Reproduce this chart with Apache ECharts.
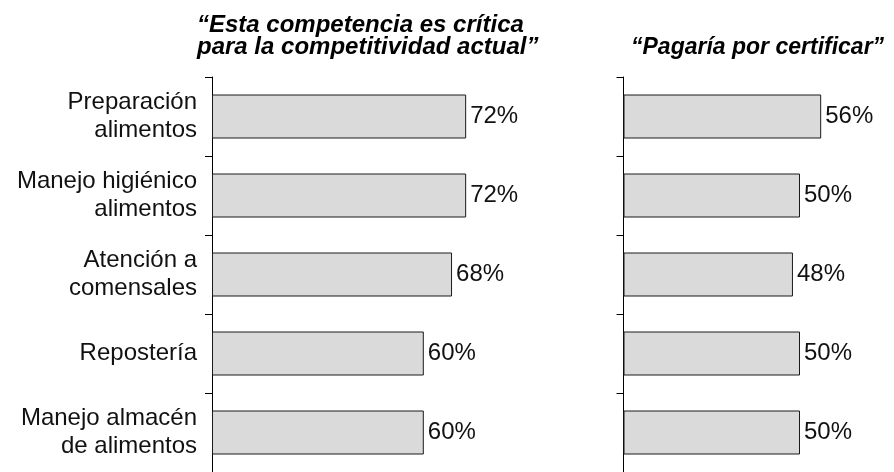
<!DOCTYPE html>
<html>
<head>
<meta charset="utf-8">
<script src="https://cdn.jsdelivr.net/npm/echarts@6/dist/echarts.min.js"></script>
<style>
  html, body { margin: 0; padding: 0; background: #fff; }
  #chart { width: 894px; height: 472px; }
</style>
</head>
<body>
<div id="chart"></div>
<script>
const categories = [
  'Preparación\nalimentos',
  'Manejo higiénico\nalimentos',
  'Atención a\ncomensales',
  'Repostería',
  'Manejo almacén\nde alimentos'
]
const criticalValues = [72, 72, 68, 60, 60]
const certifyValues = [56, 50, 48, 50, 50]
const leftTitle = '“Esta competencia es crítica\npara la competitividad actual”'
const rightTitle = '“Pagaría por certificar”'

const font = '"Liberation Sans", Arial, sans-serif'
const ink = '#111'
const pxPerUnit = 3.53
const xMax = 75

const chart = echarts.init(document.getElementById('chart'))

const yAxisBase = {
  type: 'category',
  data: categories,
  inverse: true,
  axisLine: { show: true, lineStyle: { color: '#000', width: 1 } },
  axisTick: { show: true, length: 7, lineStyle: { color: '#000', width: 1 } },
  splitLine: { show: false }
}

const barSeries = (data, idx) => ({
  type: 'bar',
  xAxisIndex: idx,
  yAxisIndex: idx,
  data: data,
  barWidth: 44,
  itemStyle: { color: '#dadada', borderColor: '#1a1a1a', borderWidth: 1 },
  label: {
    show: true,
    position: 'right',
    distance: 4,
    formatter: '{c}%',
    color: ink,
    fontFamily: font,
    fontSize: 24
  },
  silent: true
})

chart.setOption({
  animation: false,
  title: [
    {
      text: leftTitle,
      left: 192,
      top: 9,
      textStyle: {
        fontFamily: font, fontSize: 24, fontWeight: 'bold', fontStyle: 'italic',
        color: '#000', lineHeight: 22
      }
    },
    {
      text: rightTitle,
      left: 626,
      top: 32,
      textStyle: {
        fontFamily: font, fontSize: 23, fontWeight: 'bold', fontStyle: 'italic',
        color: '#000', lineHeight: 22
      }
    }
  ],
  grid: [
    { left: 212, top: 77, width: xMax * pxPerUnit, height: 396.5 },
    { left: 623.5, top: 77, width: xMax * pxPerUnit, height: 396.5 }
  ],
  xAxis: [
    { gridIndex: 0, type: 'value', min: 0, max: xMax, show: false },
    { gridIndex: 1, type: 'value', min: 0, max: xMax, show: false }
  ],
  yAxis: [
    Object.assign({}, yAxisBase, {
      gridIndex: 0,
      axisLabel: {
        margin: 15,
        color: ink,
        fontFamily: font,
        fontSize: 24,
        lineHeight: 28,
        align: 'right',
        padding: [6, 0, 0, 0]
      }
    }),
    Object.assign({}, yAxisBase, {
      gridIndex: 1,
      axisLabel: { show: false }
    })
  ],
  series: [
    barSeries(criticalValues, 0),
    barSeries(certifyValues, 1)
  ]
})
</script>
</body>
</html>
